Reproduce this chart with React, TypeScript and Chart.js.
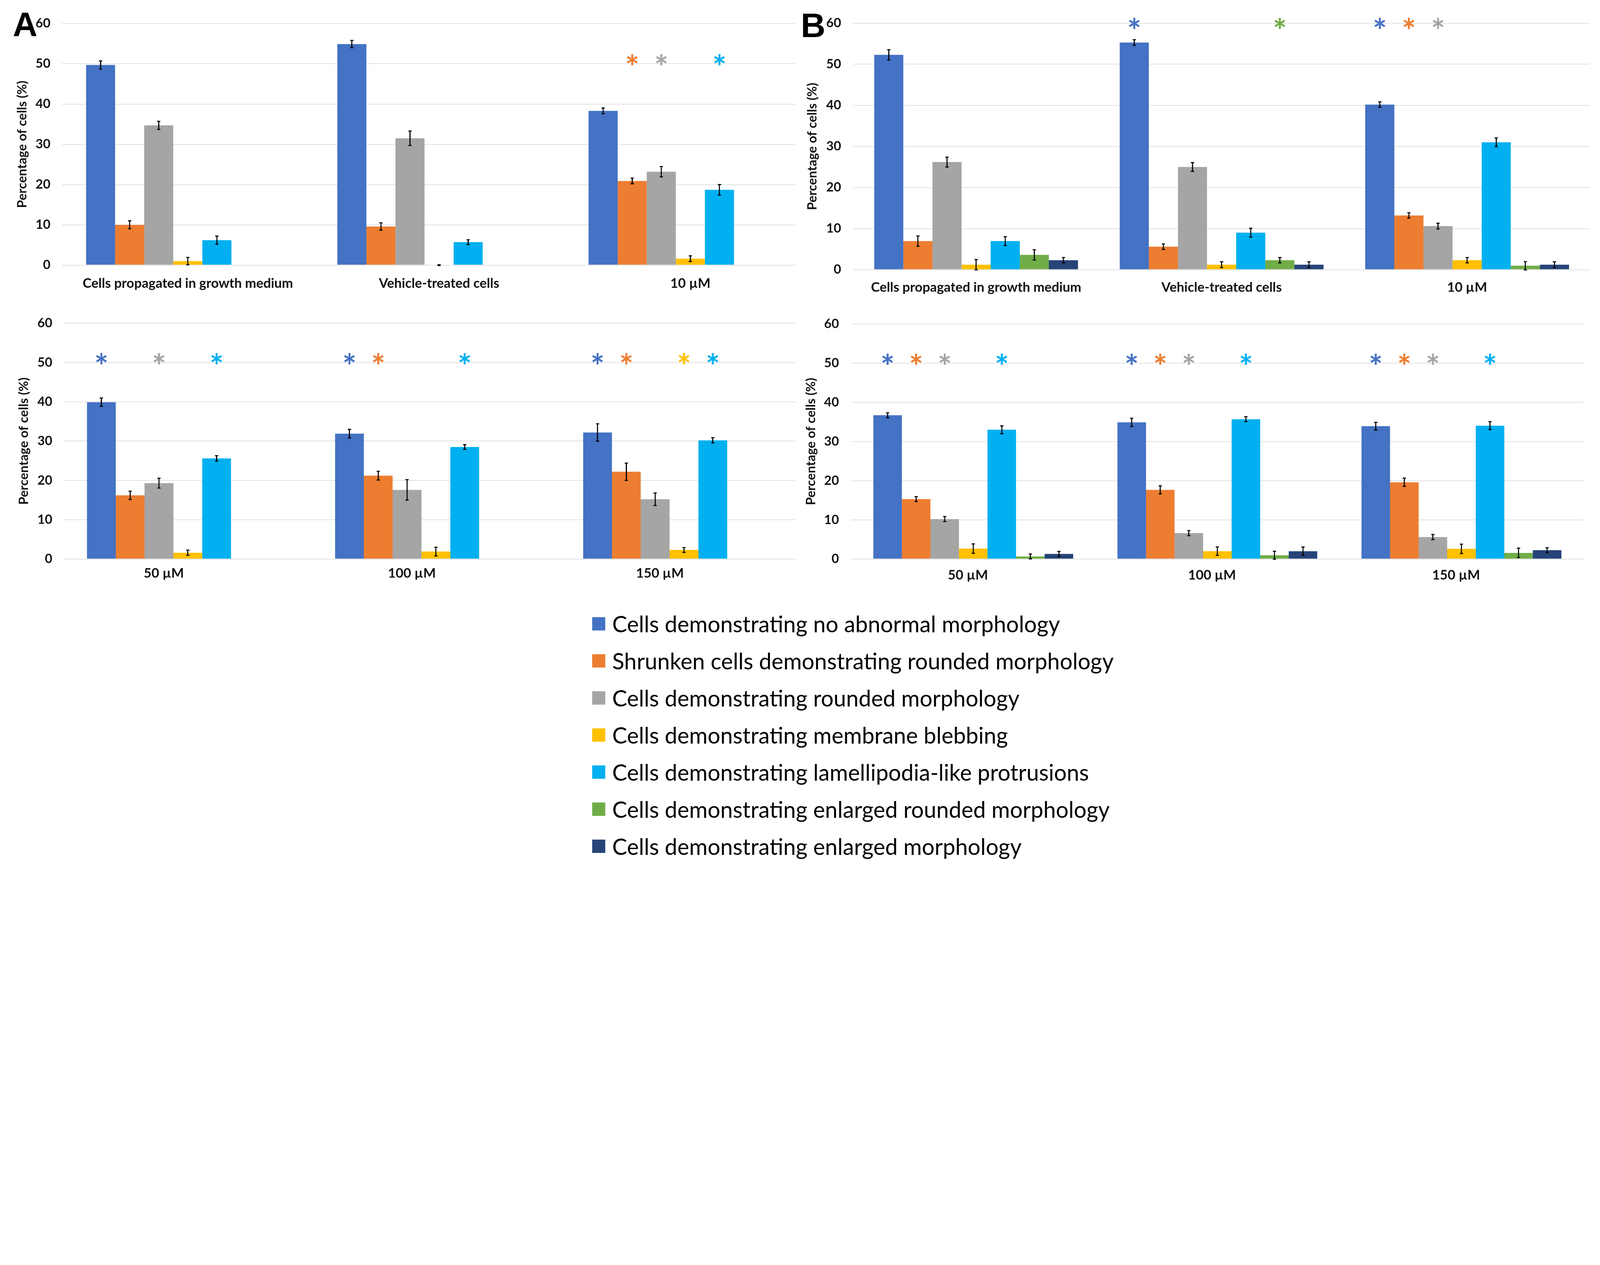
import React, { useEffect, useRef } from 'react';
import { Chart, registerables } from 'chart.js';

Chart.register(...registerables);

const FONT = 'Lato, "Open Sans", "DejaVu Sans", sans-serif';
const TEXT_COLOR = '#111111';
const GRID_COLOR = '#E2E2E2';
const Y_TITLE = 'Percentage of cells (%)';
const DESIGN_W = 5998;
const DESIGN_H = 3239;

const seriesNames = [
  'Cells demonstrating no abnormal morphology',
  'Shrunken cells demonstrating rounded morphology',
  'Cells demonstrating rounded morphology',
  'Cells demonstrating membrane blebbing',
  'Cells demonstrating lamellipodia-like protrusions',
  'Cells demonstrating enlarged rounded morphology',
  'Cells demonstrating enlarged morphology',
];
const seriesColors = ['#4472C4', '#ED7D31', '#A5A5A5', '#FFC000', '#00B0F0', '#70AD47', '#264478'];

const categoriesTop = ['Cells propagated in growth medium', 'Vehicle-treated cells', '10 µM'];
const categoriesBottom = ['50 µM', '100 µM', '150 µM'];
const yTicks = [0, 10, 20, 30, 40, 50, 60];

// Panel A, top row (five series)
const aTopValues = [
  [49.7, 54.9, 38.3],
  [10.0, 9.6, 20.9],
  [34.7, 31.5, 23.2],
  [1.0, 0.0, 1.6],
  [6.2, 5.7, 18.7],
];
const aTopErrors = [
  [1.0, 0.9, 0.7],
  [1.0, 0.9, 0.7],
  [1.0, 1.8, 1.3],
  [0.9, 0.1, 0.7],
  [1.0, 0.6, 1.3],
];
const aTopStars = [[1, 2], [2, 2], [4, 2]];

// Panel A, bottom row
const aBottomValues = [
  [39.9, 31.9, 32.2],
  [16.2, 21.2, 22.2],
  [19.3, 17.6, 15.2],
  [1.6, 1.9, 2.3],
  [25.6, 28.5, 30.2],
];
const aBottomErrors = [
  [1.05, 1.1, 2.2],
  [1.05, 1.1, 2.2],
  [1.25, 2.6, 1.6],
  [0.65, 1.1, 0.6],
  [0.7, 0.6, 0.65],
];
const aBottomStars = [[0, 0], [2, 0], [4, 0], [0, 1], [1, 1], [4, 1], [0, 2], [1, 2], [3, 2], [4, 2]];

// Panel B, top row (seven series)
const bTopValues = [
  [52.3, 55.3, 40.2],
  [6.95, 5.6, 13.2],
  [26.2, 25.0, 10.6],
  [1.2, 1.2, 2.3],
  [6.95, 9.0, 31.0],
  [3.6, 2.3, 0.95],
  [2.3, 1.2, 1.2],
];
const bTopErrors = [
  [1.25, 0.67, 0.65],
  [1.25, 0.67, 0.65],
  [1.2, 1.05, 0.7],
  [1.25, 0.7, 0.64],
  [1.07, 1.07, 1.07],
  [1.25, 0.64, 1.0],
  [0.64, 0.7, 0.7],
];
const bTopStars = [[0, 1], [5, 1], [0, 2], [1, 2], [2, 2]];

// Panel B, bottom row
const bBottomValues = [
  [36.7, 34.9, 33.9],
  [15.3, 17.65, 19.6],
  [10.2, 6.6, 5.6],
  [2.67, 2.0, 2.6],
  [33.0, 35.7, 34.05],
  [0.65, 0.97, 1.57],
  [1.29, 2.0, 2.26],
];
const bBottomErrors = [
  [0.62, 1.04, 1.0],
  [0.62, 1.04, 1.04],
  [0.65, 0.65, 0.65],
  [1.2, 1.06, 1.2],
  [1.0, 0.62, 1.0],
  [0.62, 1.0, 1.2],
  [0.65, 1.06, 0.62],
];
const bBottomStars = [[0, 0], [1, 0], [2, 0], [4, 0], [0, 1], [1, 1], [2, 1], [4, 1], [0, 2], [1, 2], [2, 2], [4, 2]];

const marksPlugin = {
  id: 'marks',
  afterDatasetsDraw(chart: any, _args: any, opts: any) {
    const { ctx } = chart;
    const yScale = chart.scales.y;
    ctx.save();
    ctx.strokeStyle = '#000000';
    ctx.lineWidth = 4;
    ctx.lineCap = 'butt';
    (opts.errors || []).forEach((errs: number[], di: number) => {
      const meta = chart.getDatasetMeta(di);
      errs.forEach((e, i) => {
        const v = chart.data.datasets[di].data[i];
        if (v == null || e == null) return;
        const el = meta.data[i];
        if (!el) return;
        const x = el.x;
        const y1 = yScale.getPixelForValue(v - e);
        const y2 = yScale.getPixelForValue(v + e);
        ctx.beginPath();
        ctx.moveTo(x, y1);
        ctx.lineTo(x, y2);
        ctx.moveTo(x - 6, y1);
        ctx.lineTo(x + 6, y1);
        ctx.moveTo(x - 6, y2);
        ctx.lineTo(x + 6, y2);
        ctx.stroke();
      });
    });
    ctx.font = `bold ${opts.starSize}px ${FONT}`;
    ctx.textAlign = 'center';
    ctx.textBaseline = 'alphabetic';
    const m = ctx.measureText('*');
    const off = (m.actualBoundingBoxAscent - m.actualBoundingBoxDescent) / 2;
    (opts.stars || []).forEach(([di, ci]: number[]) => {
      const el = chart.getDatasetMeta(di).data[ci];
      if (!el) return;
      ctx.fillStyle = seriesColors[di];
      ctx.fillText('*', el.x, yScale.getPixelForValue(opts.starY) + off);
    });
    ctx.restore();
  },
};

type PanelProps = {
  left: number;
  top: number;
  width: number;
  height: number;
  clip?: number;
  yWidth: number;
  padTop: number;
  xHeight: number;
  xPad: number;
  xLabelOffset?: number;
  yTickPad: number;
  titlePad: number;
  catPct: number;
  categories: string[];
  values: number[][];
  errors: number[][];
  stars: number[][];
  starY: number;
};

function Panel(p: PanelProps) {
  const ref = useRef<HTMLCanvasElement | null>(null);
  useEffect(() => {
    if (!ref.current) return;
    const datasets = seriesNames.map((name, i) => ({
      label: name,
      data: p.values[i] ? p.values[i].slice() : p.categories.map(() => null),
      backgroundColor: seriesColors[i],
      borderWidth: 0,
      categoryPercentage: p.catPct,
      barPercentage: 1.0,
    }));
    const chart = new Chart(ref.current, {
      type: 'bar',
      data: { labels: p.categories, datasets: datasets as any },
      plugins: [marksPlugin as any],
      options: {
        animation: false,
        responsive: false,
        maintainAspectRatio: false,
        devicePixelRatio: 1,
        layout: { padding: { top: p.padTop, left: 0, right: 0, bottom: 0 } },
        plugins: {
          legend: { display: false },
          tooltip: { enabled: false },
          marks: { errors: p.errors, stars: p.stars, starY: p.starY, starSize: 125 },
        } as any,
        scales: {
          x: {
            type: 'category',
            offset: true,
            grid: { display: false, drawTicks: false },
            border: { display: false },
            ticks: {
              font: { family: FONT, size: 50, weight: 'bold' },
              color: TEXT_COLOR,
              padding: p.xPad,
              labelOffset: p.xLabelOffset ?? 0,
              maxRotation: 0,
              autoSkip: false,
            },
            afterFit: (s: any) => {
              s.height = p.xHeight;
            },
          },
          y: {
            min: 0,
            max: 60,
            afterBuildTicks: (s: any) => {
              s.ticks = yTicks.map((v) => ({ value: v }));
            },
            ticks: {
              font: { family: FONT, size: 48, weight: 'bold' },
              color: TEXT_COLOR,
              padding: p.yTickPad,
            },
            grid: { color: GRID_COLOR, lineWidth: 3, drawTicks: false },
            border: { display: false },
            title: {
              display: true,
              text: Y_TITLE,
              font: { family: FONT, size: 48, weight: 'bold' },
              color: TEXT_COLOR,
              padding: { top: p.titlePad, bottom: 0 },
            },
            afterFit: (s: any) => {
              s.width = p.yWidth;
            },
          },
        },
      } as any,
    });
    return () => chart.destroy();
  }, []);
  return (
    <div
      style={{
        position: 'absolute',
        left: p.left,
        top: p.top,
        width: p.clip ?? p.width,
        height: p.height,
        overflow: 'hidden',
      }}
    >
      <canvas
        ref={ref}
        width={p.width}
        height={p.height}
        style={{ width: p.width, height: p.height, display: 'block' }}
      />
    </div>
  );
}

const panelLetterStyle: React.CSSProperties = {
  position: 'absolute',
  fontFamily: '"Liberation Sans", Arial, sans-serif',
  fontWeight: 'bold',
  fontSize: 128,
  lineHeight: 1,
  color: '#000',
};

function getScale() {
  if (typeof window === 'undefined') return 1;
  const w = window.innerWidth || DESIGN_W;
  const h = window.innerHeight || DESIGN_H;
  return Math.min(w / DESIGN_W, h / DESIGN_H);
}

export default function App() {
  const scale = getScale();
  return (
    <div
      style={{
        position: 'fixed',
        left: 0,
        top: 0,
        width: DESIGN_W * scale,
        height: DESIGN_H * scale,
        overflow: 'hidden',
        background: '#ffffff',
      }}
    >
      <div
        style={{
          position: 'absolute',
          left: 0,
          top: 0,
          width: DESIGN_W,
          height: DESIGN_H,
          background: '#ffffff',
          transform: `scale(${scale})`,
          transformOrigin: '0 0',
        }}
      >
        <Panel
          left={0}
          top={0}
          width={3059}
          height={1130}
          clip={2980}
          yWidth={233}
          padTop={88}
          xHeight={136}
          xPad={39}
          yTickPad={44}
          titlePad={55}
          catPct={0.81}
          categories={categoriesTop}
          values={aTopValues}
          errors={aTopErrors}
          stars={aTopStars}
          starY={51}
        />
        <Panel
          left={0}
          top={1140}
          width={3029}
          height={1100}
          clip={2980}
          yWidth={239}
          padTop={60}
          xHeight={144}
          xPad={24}
          xLabelOffset={-90}
          yTickPad={43}
          titlePad={61}
          catPct={0.813}
          categories={categoriesBottom}
          values={aBottomValues}
          errors={aBottomErrors}
          stars={aBottomStars}
          starY={51}
        />
        <Panel
          left={2990}
          top={0}
          width={2970}
          height={1140}
          yWidth={209}
          padTop={87}
          xHeight={129}
          xPad={37}
          yTickPad={46}
          titlePad={27}
          catPct={0.83}
          categories={categoriesTop}
          values={bTopValues}
          errors={bTopErrors}
          stars={bTopStars}
          starY={60}
        />
        <Panel
          left={2990}
          top={1140}
          width={2946}
          height={1100}
          yWidth={201}
          padTop={42}
          xHeight={144}
          xPad={31}
          xLabelOffset={-20}
          yTickPad={46}
          titlePad={22}
          catPct={0.819}
          categories={categoriesBottom}
          values={bBottomValues}
          errors={bBottomErrors}
          stars={bBottomStars}
          starY={51}
        />
        <div style={{ ...panelLetterStyle, left: 48, top: 27 }}>A</div>
        <div style={{ ...panelLetterStyle, left: 3002, top: 31 }}>B</div>
        {seriesNames.map((name, i) => (
          <div
            key={name}
            style={{
              position: 'absolute',
              left: 2220,
              top: 2339 + i * 139 - 50,
              height: 100,
              display: 'flex',
              alignItems: 'center',
              whiteSpace: 'nowrap',
            }}
          >
            <div style={{ width: 49, height: 50, background: seriesColors[i], marginRight: 26 }} />
            <span style={{ fontFamily: FONT, fontSize: 84, color: '#000', lineHeight: 1 }}>{name}</span>
          </div>
        ))}
      </div>
    </div>
  );
}
